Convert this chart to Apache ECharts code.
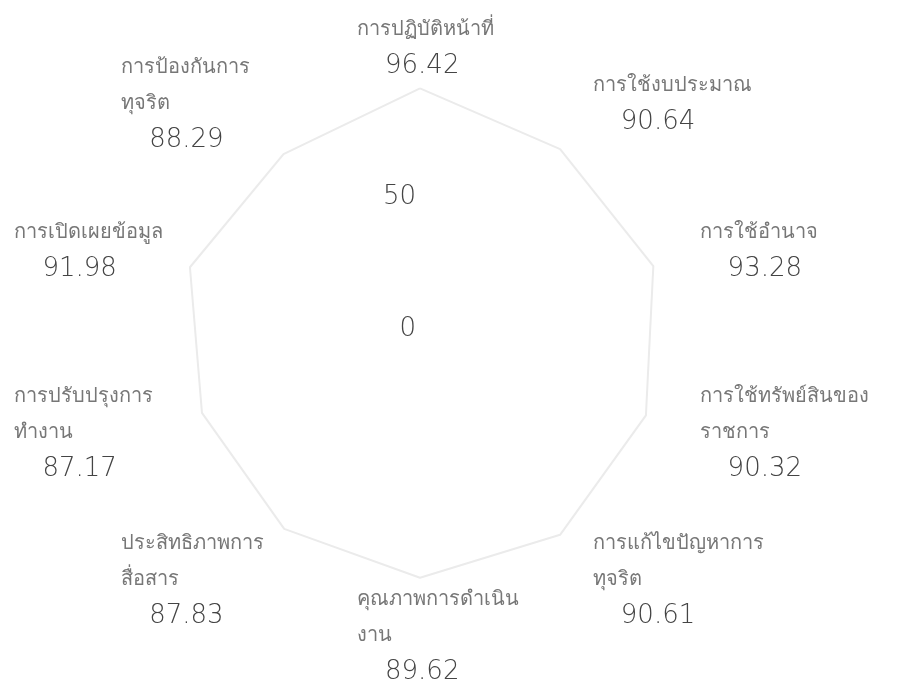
<!DOCTYPE html>
<html><head><meta charset="utf-8">
<script src="https://cdn.jsdelivr.net/npm/echarts@6/dist/echarts.min.js"></script>
<style>html,body{margin:0;padding:0;background:#fff}#c{width:898px;height:685px}</style>
</head><body><div id="c"></div>
<script>
const categories = ['การปฏิบัติหน้าที่', 'การใช้งบประมาณ', 'การใช้อำนาจ', 'การใช้ทรัพย์สินของ\nราชการ', 'การแก้ไขปัญหาการ\nทุจริต', 'คุณภาพการดำเนิน\nงาน', 'ประสิทธิภาพการ\nสื่อสาร', 'การปรับปรุงการ\nทำงาน', 'การเปิดเผยข้อมูล', 'การป้องกันการ\nทุจริต'];
const scores = [96.42, 90.64, 93.28, 90.32, 90.61, 89.62, 87.83, 87.17, 91.98, 88.29];
const axisMin = 0;
const axisMax = 100;

const FONT = "'DejaVu Sans', 'Noto Sans', sans-serif";
const chart = echarts.init(document.getElementById('c'), null, {renderer: 'canvas'});
// ECharts places indicators counter-clockwise; keep the clockwise reading order
const order = [0].concat(categories.map((_, i) => i).slice(1).reverse());
chart.setOption({
  animation: false,
  backgroundColor: '#ffffff',
  radar: {
    center: [420, 342],
    radius: 263,
    startAngle: 90,
    splitNumber: 2,
    nameGap: 31,
    indicator: order.map((i, k) => {
      const o = {name: categories[i], min: axisMin, max: axisMax};
      if (k === 0) o.axisLabel = {show: true};
      return o;
    }),
    axisName: {
      verticalAlign: 'middle',
      formatter: function (name) {
        const i = categories.indexOf(name);
        return name.split('\n').map(l => '{n|' + l + '}').join('\n') + '\n{v|' + scores[i].toFixed(2) + '}';
      },
      rich: {
        n: {width: 126, align: 'left', fontSize: 20, lineHeight: 36, color: '#777777', fontFamily: FONT, fontWeight: 200},
        v: {align: 'left', padding: [0, 0, 0, 28], fontSize: 26, lineHeight: 36, color: '#444444', fontFamily: FONT, fontWeight: 200}
      }
    },
    splitLine: {show: false},
    splitArea: {show: false},
    axisLine: {show: false},
    axisTick: {show: false},
    axisLabel: {
      show: false,
      margin: 4,
      verticalAlign: 'bottom',
      fontSize: 26,
      color: '#444444',
      fontFamily: FONT,
      fontWeight: 200,
      formatter: v => (v === axisMax ? '' : String(v))
    }
  },
  series: [{
    type: 'radar',
    silent: true,
    symbol: 'none',
    lineStyle: {color: '#ebebeb', width: 2},
    data: [{value: order.map(i => scores[i])}]
  }]
});
</script></body></html>
